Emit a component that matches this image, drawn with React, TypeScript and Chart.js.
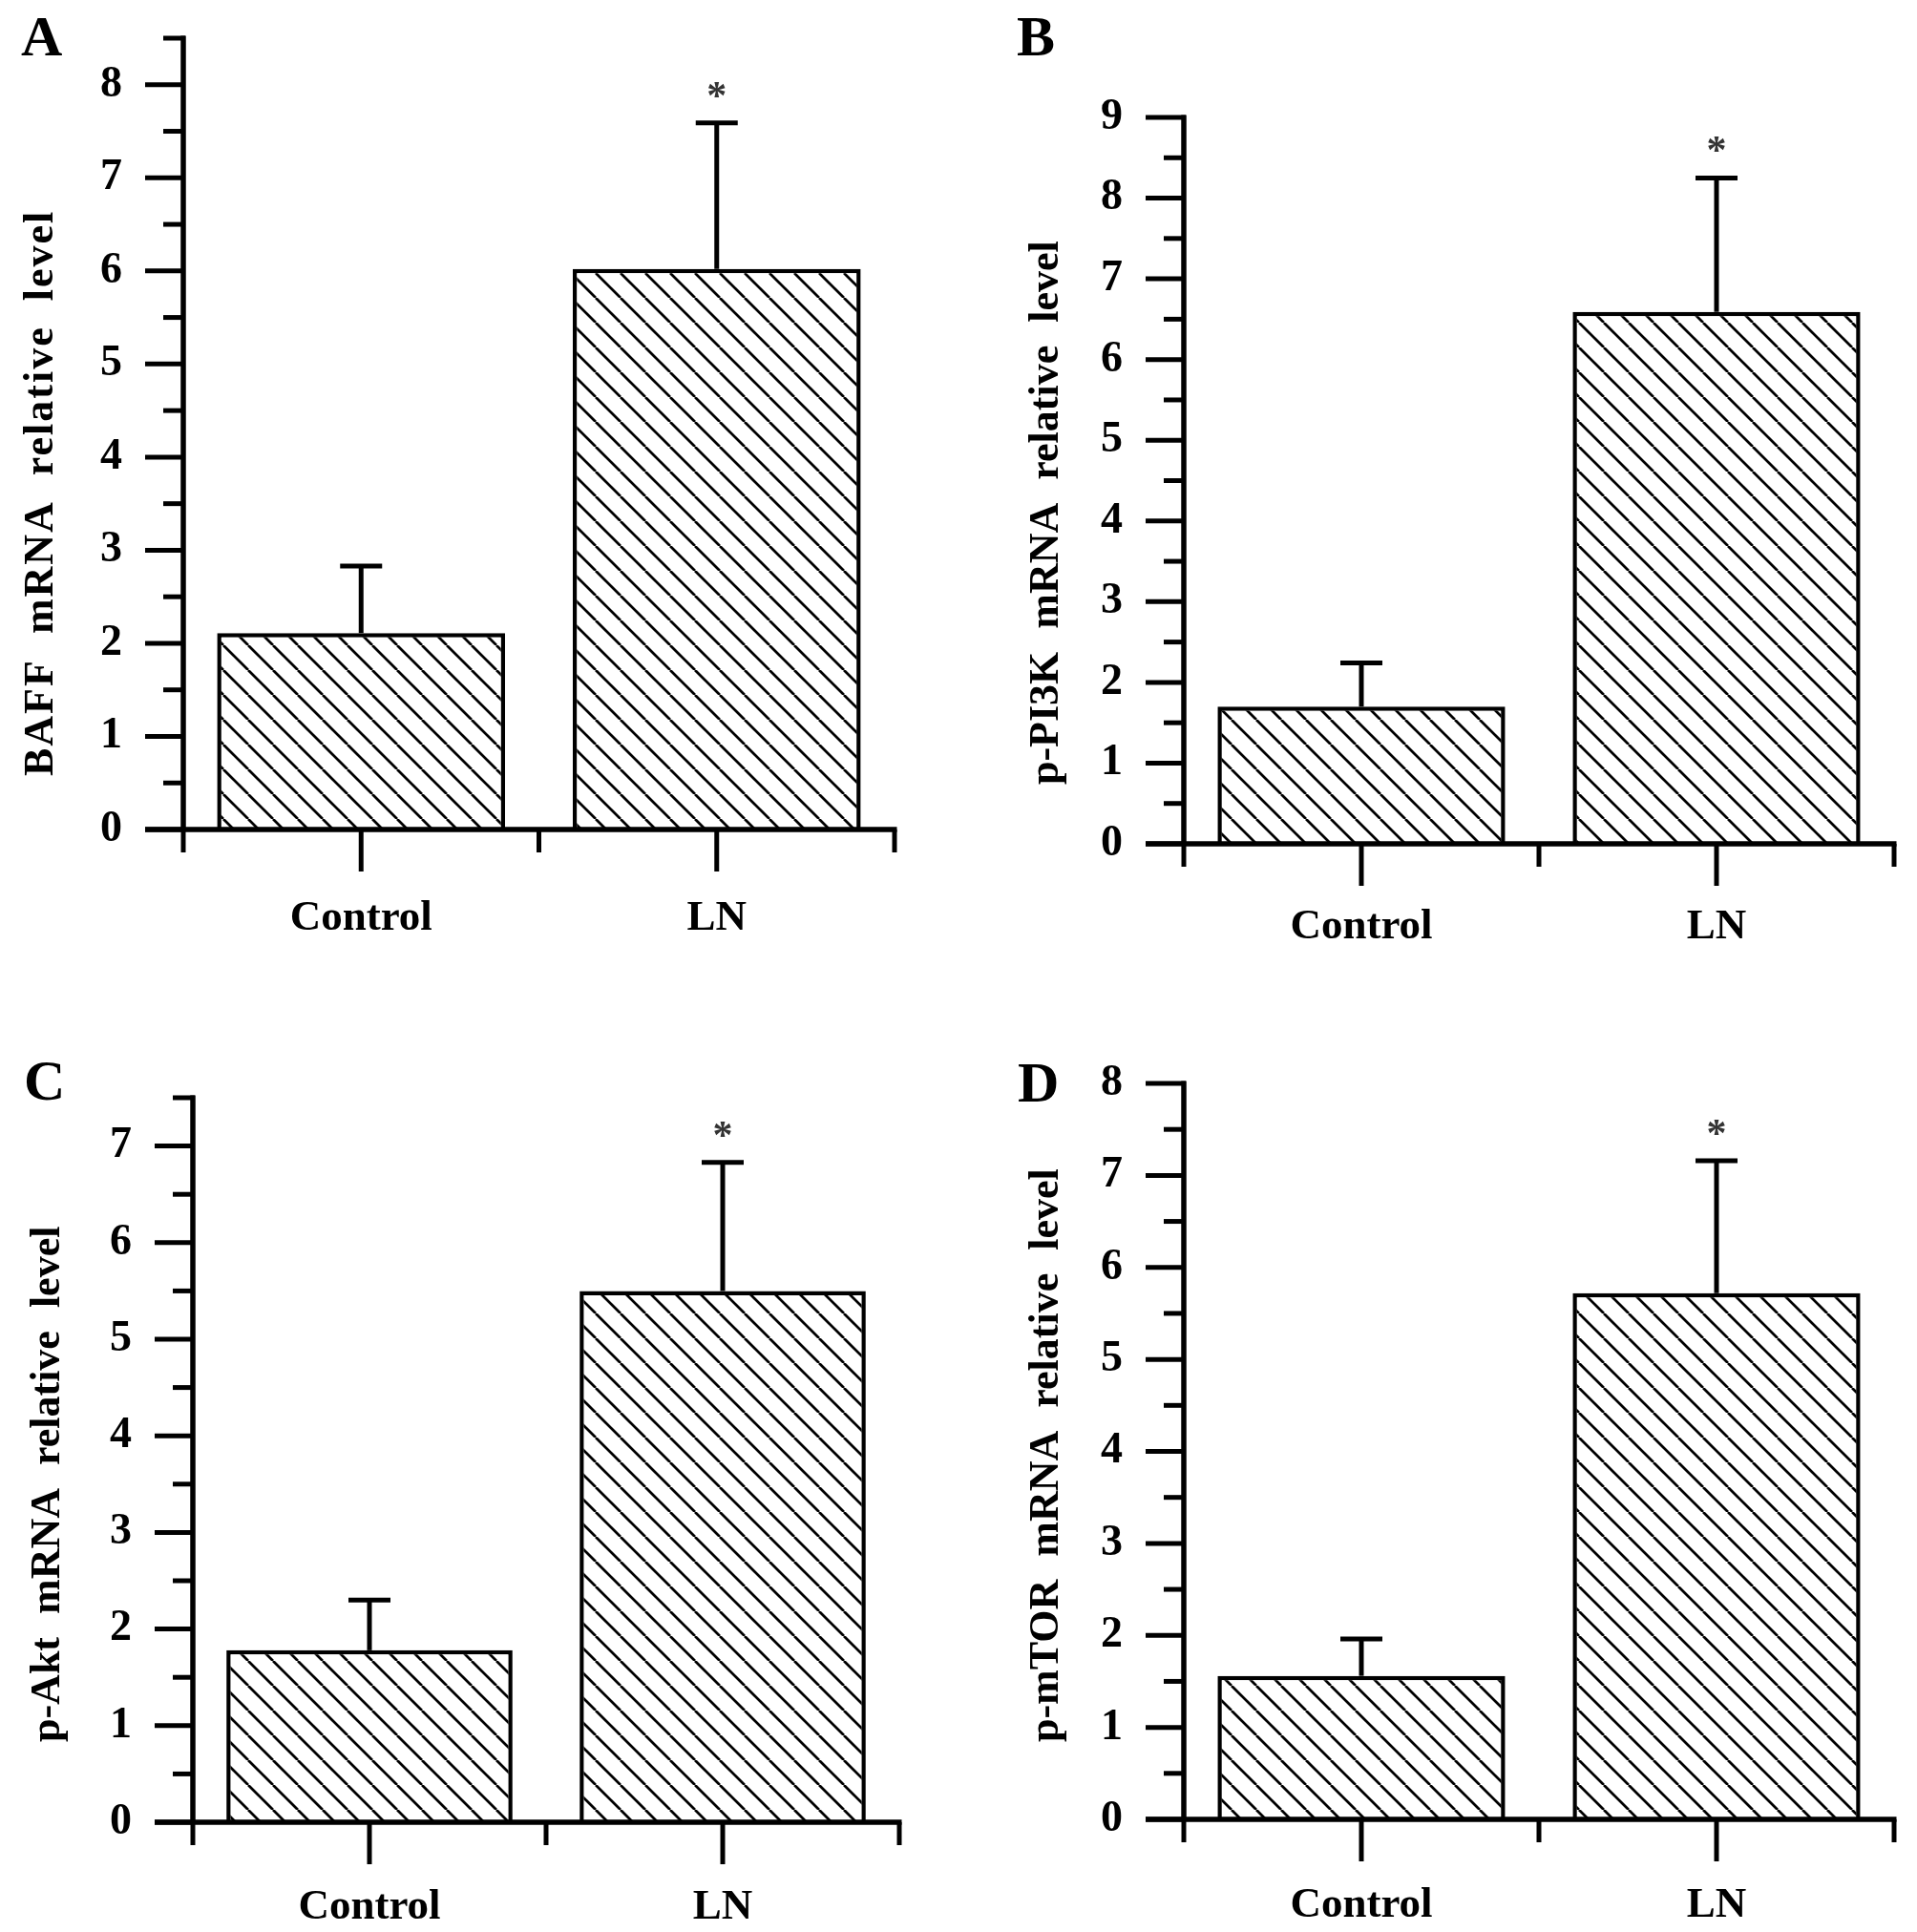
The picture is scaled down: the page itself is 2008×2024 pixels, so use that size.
import { useEffect, useRef } from 'react'
import { Chart, registerables } from 'chart.js'
Chart.register(...registerables)

const categories = ['Control', 'LN']
const panelLetters = ['A', 'B', 'C', 'D']
const yTitles = [
    'BAFF mRNA relative level',
    'p-PI3K mRNA relative level',
    'p-Akt mRNA relative level',
    'p-mTOR mRNA relative level',
]
const yMaxes = [8.5, 9, 7.5, 8]

const baffMean = [2.11, 6.02]
const baffErr = [0.72, 1.57]
const pi3kMean = [1.70, 6.59]
const pi3kErr = [0.54, 1.66]
const aktMean = [1.78, 5.50]
const aktErr = [0.52, 1.33]
const mtorMean = [1.56, 5.72]
const mtorErr = [0.40, 1.44]
const starred = [false, true]

const means = [baffMean, pi3kMean, aktMean, mtorMean]
const errs = [baffErr, pi3kErr, aktErr, mtorErr]

// where each panel sits on the page (px), and its plot box inside the canvas
const boxes = [
    { left: 0, top: 0, axisX: 192, yTop: 40, y0: 869, xRight: 937, labelPad: 66, titleX: 55, titleY: 813, letterX: 22, letterY: 58, letterSp: 2 },
    { left: 1004, top: 0, axisX: 236, yTop: 123, y0: 884, xRight: 980, labelPad: 60, titleX: 104, titleY: 822, letterX: 61, letterY: 58, letterSp: 0 },
    { left: 0, top: 1012, axisX: 202, yTop: 138, y0: 897, xRight: 942, labelPad: 62, titleX: 62, titleY: 813, letterX: 25, letterY: 140, letterSp: 0 },
    { left: 1004, top: 1012, axisX: 236, yTop: 123, y0: 894, xRight: 980, labelPad: 63, titleX: 104, titleY: 813, letterX: 62, letterY: 142, letterSp: 0 },
]
const W = 1004
const H = 1012
const FONT = '"Liberation Serif", "Times New Roman", serif'

function hatch(): CanvasPattern | string {
    const s = 26
    const tile = document.createElement('canvas')
    tile.width = s
    tile.height = s
    const c = tile.getContext('2d')!
    c.fillStyle = '#fff'
    c.fillRect(0, 0, s, s)
    c.strokeStyle = '#000'
    c.lineWidth = 2.7
    for (const k of [-1, 0, 1]) {
        c.beginPath()
        c.moveTo(k * s, 0)
        c.lineTo(k * s + s, s)
        c.stroke()
    }
    return c.createPattern(tile, 'repeat') ?? '#fff'
}

function Panel({ idx }: { idx: number }) {
    const canvasRef = useRef<HTMLCanvasElement>(null)
    const chartRef = useRef<Chart | null>(null)
    const b = boxes[idx]

    useEffect(() => {
        if (!canvasRef.current) return
        const ctx = canvasRef.current.getContext('2d')!
        chartRef.current?.destroy()

        const mean = means[idx]
        const err = errs[idx]

        const decor = {
            id: 'decor' + idx,
            afterDatasetsDraw(chart: Chart) {
                const c = chart.ctx
                const a = chart.chartArea
                const x = chart.scales.x
                const y = chart.scales.y
                const line = (x1: number, y1: number, x2: number, y2: number) => {
                    c.beginPath(); c.moveTo(x1, y1); c.lineTo(x2, y2); c.stroke()
                }
                c.save()
                c.strokeStyle = '#000'
                c.lineCap = 'butt'

                // upper error bars
                c.lineWidth = 5
                mean.forEach((m, i) => {
                    const cx = x.getPixelForValue(i)
                    const yb = y.getPixelForValue(m)
                    const yt = y.getPixelForValue(m + err[i])
                    line(cx, yb, cx, yt)
                    line(cx - 22, yt, cx + 22, yt)
                    if (starred[i]) {
                        c.fillStyle = '#333'
                        c.font = `bold 42px ${FONT}`
                        c.textAlign = 'center'
                        c.textBaseline = 'alphabetic'
                        c.fillText('*', cx, yt - 15)
                    }
                })

                // y axis with major / minor ticks
                c.lineWidth = 5.5
                line(a.left, a.top - 2.5, a.left, a.bottom)
                c.lineWidth = 5
                y.ticks.forEach(t => {
                    const py = y.getPixelForValue(t.value)
                    const len = Number.isInteger(t.value) ? 40 : 21
                    line(a.left - len, py, a.left + 2, py)
                })

                // x axis, boundary ticks and centre ticks
                c.lineWidth = 5.5
                line(a.left - 40, a.bottom, a.right + 2.5, a.bottom)
                c.lineWidth = 5
                const n = categories.length
                for (let i = 0; i <= n; i++) {
                    const bx = i === 0 ? a.left : i === n ? a.right
                        : (x.getPixelForValue(i - 1) + x.getPixelForValue(i)) / 2
                    line(bx, a.bottom, bx, a.bottom + 24)
                }
                categories.forEach((_, i) => {
                    const cx = x.getPixelForValue(i)
                    line(cx, a.bottom, cx, a.bottom + 44)
                })

                // rotated y title
                c.fillStyle = '#000'
                c.font = `bold 44px ${FONT}`
                ;(c as any).letterSpacing = b.letterSp + 'px'
                ;(c as any).wordSpacing = '13px'
                c.translate(b.titleX, b.titleY)
                c.rotate(-Math.PI / 2)
                c.textAlign = 'left'
                c.textBaseline = 'alphabetic'
                c.fillText(yTitles[idx], 0, 0)
                c.restore()

                // panel letter
                c.save()
                c.fillStyle = '#000'
                c.font = `bold 60px ${FONT}`
                c.textAlign = 'left'
                c.textBaseline = 'alphabetic'
                c.fillText(panelLetters[idx], b.letterX, b.letterY)
                c.restore()
            },
        }

        chartRef.current = new Chart(ctx, {
            type: 'bar',
            data: {
                labels: categories,
                datasets: [{
                    data: mean,
                    backgroundColor: hatch() as any,
                    borderColor: '#000',
                    borderWidth: 4.5,
                    borderSkipped: 'bottom',
                    categoryPercentage: 1,
                    barPercentage: 0.81,
                }],
            },
            options: {
                responsive: false, animation: false, devicePixelRatio: 1, events: [],
                layout: { padding: { left: 0, top: b.yTop, right: W - b.xRight, bottom: 0 } },
                plugins: { legend: { display: false }, tooltip: { enabled: false } },
                scales: {
                    x: {
                        type: 'category', offset: true,
                        grid: { display: false, drawTicks: false }, border: { display: false },
                        ticks: { color: '#000', padding: b.labelPad, font: { family: FONT, size: 45, weight: 'bold' } },
                        afterFit: (s: any) => { s.height = H - b.y0; s.paddingLeft = 0; s.paddingRight = 0 },
                    },
                    y: {
                        min: 0, max: yMaxes[idx],
                        grid: { display: false, drawTicks: false }, border: { display: false },
                        ticks: {
                            stepSize: 0.5, autoSkip: false, color: '#000', padding: 64,
                            font: { family: FONT, size: 46, weight: 'bold' },
                            callback: (v: any) => Number.isInteger(v) ? String(v) : '',
                        },
                        afterFit: (s: any) => { s.width = b.axisX; s.paddingTop = 0; s.paddingBottom = 0 },
                    },
                },
            },
            plugins: [decor],
        })
        return () => chartRef.current?.destroy()
    }, [idx])

    return (
        <canvas ref={canvasRef} width={W} height={H}
                style={{ position: 'absolute', left: b.left, top: b.top, width: W, height: H }} />
    )
}

export default function App() {
    return (
        <div style={{ position: 'absolute', left: 0, top: 0, width: 2008, height: 2024, background: '#fff' }}>
            {boxes.map((_, i) => <Panel key={i} idx={i} />)}
        </div>
    )
}
